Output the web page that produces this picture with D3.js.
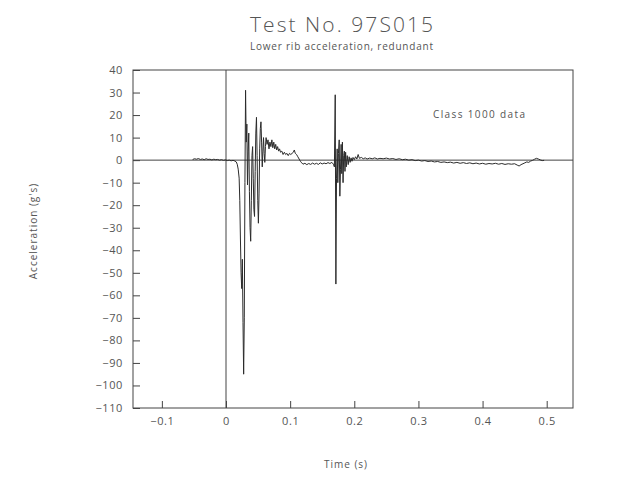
<!DOCTYPE html>
<html>
<head>
<meta charset="utf-8">
<script src="https://cdn.jsdelivr.net/npm/d3@7"></script>
<style>
  html, body { margin: 0; padding: 0; background: #fff; }
  svg { display: block; }
  text { font-family: "Open Sans", "DejaVu Sans", sans-serif; fill: #555; }
</style>
</head>
<body>
<svg id="chart" width="628" height="479"></svg>
<script>
// ---- data ----
const titleText = "Test No. 97S015";
const subtitleText = "Lower rib acceleration, redundant";
const noteText = "Class 1000 data";
const xLabel = "Time (s)";
const yLabel = "Acceleration (g's)";

const xTicks = [-0.1, 0, 0.1, 0.2, 0.3, 0.4, 0.5];
const yTicks = [40, 30, 20, 10, 0, -10, -20, -30, -40, -50, -60, -70, -80, -90, -100, -110];
const xDomain = [-0.145, 0.541];
const yDomain = [-110, 40];

const time = [
  -0.052, -0.049, -0.046, -0.043, -0.040, -0.037, -0.034, -0.031, -0.028, -0.025,
  -0.022, -0.019, -0.016, -0.013, -0.010, -0.007, -0.004, -0.001, 0.002, 0.005,
  0.008, 0.011, 0.014, 0.016, 0.0175, 0.019, 0.0205, 0.0215, 0.0225, 0.0235,
  0.0245, 0.0255, 0.0265, 0.0275, 0.0285, 0.0295, 0.0305, 0.0315, 0.0325, 0.0335,
  0.0345, 0.0355, 0.0365, 0.0375, 0.0385, 0.0395, 0.0405, 0.0415, 0.0425, 0.0435,
  0.0445, 0.0455, 0.0465, 0.0475, 0.0485, 0.0495, 0.0505, 0.0515, 0.0525, 0.0535,
  0.0545, 0.0555, 0.0565, 0.0575, 0.0585, 0.0595, 0.0605, 0.0615, 0.0625, 0.064,
  0.0655, 0.067, 0.0685, 0.070, 0.0715, 0.073, 0.0745, 0.076, 0.0775, 0.079,
  0.0805, 0.082, 0.0835, 0.085, 0.087, 0.089, 0.091, 0.093, 0.095, 0.097,
  0.099, 0.101, 0.103, 0.105, 0.1065, 0.108, 0.110, 0.112, 0.114, 0.116,
  0.118, 0.120, 0.123, 0.126, 0.129, 0.132, 0.135, 0.138, 0.141, 0.144,
  0.147, 0.150, 0.153, 0.156, 0.159, 0.162, 0.165, 0.1675, 0.169, 0.1703,
  0.1713, 0.1723, 0.1733, 0.1743, 0.1753, 0.1765, 0.1775, 0.1785, 0.1795, 0.1805,
  0.1815, 0.1825, 0.1835, 0.1845, 0.1855, 0.1865, 0.1875, 0.189, 0.1905, 0.192,
  0.1935, 0.195, 0.1965, 0.198, 0.200, 0.202, 0.204, 0.206, 0.208, 0.211,
  0.214, 0.217, 0.220, 0.224, 0.228, 0.232, 0.236, 0.240, 0.245, 0.250,
  0.255, 0.260, 0.265, 0.270, 0.275, 0.280, 0.285, 0.290, 0.295, 0.300,
  0.305, 0.310, 0.315, 0.320, 0.325, 0.330, 0.335, 0.340, 0.345, 0.350,
  0.355, 0.360, 0.365, 0.370, 0.375, 0.380, 0.385, 0.390, 0.395, 0.400,
  0.405, 0.410, 0.415, 0.420, 0.425, 0.430, 0.435, 0.440, 0.445, 0.450,
  0.454, 0.457, 0.460, 0.463, 0.466, 0.469, 0.472, 0.475, 0.478, 0.481,
  0.484, 0.487, 0.490, 0.493, 0.496
];
const accel = [
  0.3, 0.6, 0.4, 0.7, 0.3, 0.5, 0.2, 0.6, 0.3, 0.4,
  0.1, 0.4, 0.2, 0.3, 0.0, 0.2, -0.1, 0.1, -0.2, 0.0,
  -0.3, -0.1, -0.4, -0.8, -1.8, -4, -8, -18, -35, -50,
  -57, -44, -72, -95, -70, -10, 31, 8, 16, -11,
  4, 12, -14, -30, -36, -18, 2, 6, -8, -22,
  -25, -5, 12, 19, 2, -18, -28, -15, 5, 14,
  17, 8, -3, 4, 10, 3, -1, 6, 10, 7,
  9, 5, 8, 6, 9, 5.5, 8, 5, 7, 4.5,
  6, 4, 5, 3.5, 4, 2.5, 3.5, 2.5, 3, 2,
  3, 2.5, 3, 3.5, 4.5, 3, 2.5, 1.5, 0.5, -0.5,
  -1.2, -1.8, -1.4, -2.0, -1.5, -1.9, -1.3, -1.8, -1.4, -1.9,
  -1.2, -1.7, -1.3, -1.6, -1.1, -1.5, -1.0, -1.8, -3, 29,
  -55, -8, 5, -10, 3, 9, -16, -4, 7, -6,
  8, -10, 2, 4, -5, 3.5, -3, 2, -2, 1.5,
  -1, 1, -0.5, 1.2, 0.2, 1.5, 0.5, 2.5, 0.8, 1.2,
  0.6, 1.0, 0.5, 0.9, 0.6, 1.0, 0.5, 0.8, 0.6, 0.9,
  0.5, 0.7, 0.3, 0.6, 0.2, 0.4, 0.0, 0.2, -0.2, 0.0,
  -0.4, -0.2, -0.6, -0.4, -0.8, -0.6, -1.0, -0.8, -1.1, -0.9,
  -1.3, -1.0, -1.4, -1.1, -1.5, -1.2, -1.6, -1.3, -1.7, -1.4,
  -1.8, -1.5, -1.7, -1.4, -1.8, -1.5, -1.9, -1.6, -1.8, -1.6,
  -2.2, -2.6, -2.0, -1.6, -1.2, -0.8, -1.0, -0.4, -0.1, 0.4,
  0.8, 0.5, 0.1, -0.2, -0.1
];

// ---- drawing ----
const svg = d3.select("#chart");
svg.append("rect").attr("width", 628).attr("height", 479).attr("fill", "#fff");

const plot = { left: 133, right: 573, top: 70, bottom: 408 };
const x = d3.scaleLinear().domain(xDomain).range([plot.left, plot.right]);
const y = d3.scaleLinear().domain(yDomain).range([plot.bottom, plot.top]);

const axisColor = "#444";
const fmt = d3.format("");

// frame
svg.append("rect")
  .attr("x", plot.left).attr("y", plot.top)
  .attr("width", plot.right - plot.left).attr("height", plot.bottom - plot.top)
  .attr("fill", "none").attr("stroke", axisColor).attr("stroke-width", 1);

// y axis (ticks pointing inward)
const yAxis = svg.append("g")
  .attr("transform", `translate(${plot.left},0)`)
  .call(d3.axisLeft(y).tickValues(yTicks).tickFormat(fmt).tickSizeInner(-7).tickSizeOuter(0).tickPadding(10));
yAxis.select(".domain").remove();
yAxis.selectAll(".tick line").attr("stroke", axisColor);
yAxis.selectAll(".tick text")
  .attr("font-family", "'Open Sans', 'DejaVu Sans', sans-serif")
  .attr("font-size", 11).attr("letter-spacing", 0.6).attr("fill", "#555");

// x axis (ticks pointing inward)
const xAxis = svg.append("g")
  .attr("transform", `translate(0,${plot.bottom})`)
  .call(d3.axisBottom(x).tickValues(xTicks).tickFormat(fmt).tickSizeInner(-7).tickSizeOuter(0).tickPadding(9));
xAxis.select(".domain").remove();
xAxis.selectAll(".tick line").attr("stroke", axisColor);
xAxis.selectAll(".tick text")
  .attr("font-family", "'Open Sans', 'DejaVu Sans', sans-serif")
  .attr("font-size", 11).attr("letter-spacing", 0.6).attr("fill", "#555");

// reference lines at t = 0 and a = 0
svg.append("line")
  .attr("x1", x(0)).attr("x2", x(0)).attr("y1", plot.top).attr("y2", plot.bottom)
  .attr("stroke", axisColor).attr("stroke-width", 1);
svg.append("line")
  .attr("x1", plot.left).attr("x2", plot.right).attr("y1", y(0)).attr("y2", y(0))
  .attr("stroke", axisColor).attr("stroke-width", 1);

// signal
const pts = time.map((t, i) => [t, accel[i]]);
svg.append("path")
  .datum(pts)
  .attr("fill", "none")
  .attr("stroke", "#2b2b2b")
  .attr("stroke-width", 1)
  .attr("stroke-linejoin", "round")
  .attr("d", d3.line().x(d => x(d[0])).y(d => y(d[1])));

// titles
svg.append("text")
  .attr("x", 250).attr("y", 32)
  .attr("font-size", 21).attr("font-weight", 300)
  .attr("textLength", 183).attr("lengthAdjust", "spacing")
  .attr("fill", "#666")
  .text(titleText);
svg.append("text")
  .attr("x", 250).attr("y", 50)
  .attr("font-size", 10)
  .attr("textLength", 183).attr("lengthAdjust", "spacing")
  .attr("fill", "#555")
  .text(subtitleText);

// annotation
svg.append("text")
  .attr("x", 433).attr("y", 118)
  .attr("font-size", 10)
  .attr("textLength", 92).attr("lengthAdjust", "spacing")
  .attr("fill", "#555")
  .text(noteText);

// axis titles
svg.append("text")
  .attr("x", 346).attr("y", 468)
  .attr("text-anchor", "middle")
  .attr("font-size", 10).attr("letter-spacing", 1)
  .attr("fill", "#555")
  .text(xLabel);
svg.append("text")
  .attr("transform", "translate(37,231) rotate(-90)")
  .attr("text-anchor", "middle")
  .attr("font-size", 10).attr("letter-spacing", 1)
  .attr("fill", "#555")
  .text(yLabel);
</script>
</body>
</html>
